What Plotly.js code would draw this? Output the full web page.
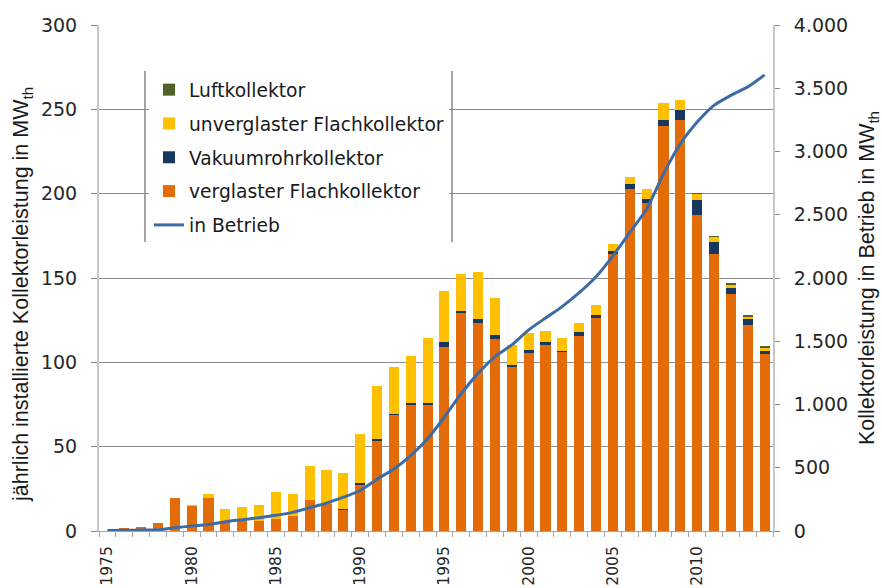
<!DOCTYPE html>
<html>
<head>
<meta charset="utf-8">
<script src="https://cdn.plot.ly/plotly-3.0.1.min.js"></script>
<style>html,body{margin:0;padding:0;background:#fff;}#chart{width:882px;height:588px;}</style>
</head>
<body>
<div id="chart"></div>
<script>
// Years (categories)
var years = [1975,1976,1977,1978,1979,1980,1981,1982,1983,1984,1985,1986,1987,1988,1989,
             1990,1991,1992,1993,1994,1995,1996,1997,1998,1999,2000,2001,2002,2003,2004,
             2005,2006,2007,2008,2009,2010,2011,2012,2013,2014];

// verglaster Flachkollektor (MWth, yearly)
var verglaster = [0,1.5,2.5,5,19.5,15,19.3,6,6.5,5.8,7.2,8.6,18.4,16,12.5,
                  27,53.5,69,75,75,109,129,123.5,114,97,105.5,110.5,106,115.5,126,
                  164,203,194.5,240,243.5,187.5,164,140.5,122,105];

// Vakuumrohrkollektor (MWth, yearly)
var vakuum = [0,0,0,0,0,0,0,0,0,0,0,0,0,0,0.7,
              1.4,1.3,0.3,0.6,0.6,3,1.4,2.2,2.2,1.6,1.6,1.6,1.0,2.2,1.8,
              1.8,2.6,2.6,3.4,6.2,8.5,7.1,3.6,3.4,2];

// unverglaster Flachkollektor (MWth, yearly)
var unverglaster = [0,0,0,0,0,0.5,2.8,7,8,9.6,15.7,13.3,20.3,20.4,21.1,
                    28.9,31.2,28.1,28,38.7,30.5,22.1,27.6,21.8,11.9,10.2,6.2,7.3,5.8,5.9,
                    4.6,4.1,5.9,10.6,5.9,3.9,3.1,2,1.6,1.6];

// Luftkollektor (MWth, yearly)
var luft = [0,0,0,0,0,0,0,0,0,0,0,0,0,0,0,
            0,0,0,0,0,0,0,0,0,0,0,0,0,0,0,
            0,0,0,0,0,0.3,0.8,0.8,0.8,0.8];

// in Betrieb (MWth, cumulative, right axis)
var inBetrieb = [3,5,7,10,26,39,52,73,89,105,124,147,184,220,267,
                 320,410,490,596,729,901,1087,1246,1379,1471,1590,1683,1776,1884,2010,
                 2175,2360,2545,2823,3061,3233,3365,3444,3511,3606];

var labelYears = [1975,1980,1985,1990,1995,2000,2005,2010];

var tickFont = {family: 'DejaVu Sans, sans-serif', size: 19, color: '#262626'};
var xTickFont = {family: 'DejaVu Sans, sans-serif', size: 15.5, color: '#262626'};
var titleFont = {family: 'Liberation Sans, Arial, sans-serif', size: 21.5, color: '#1a1a1a'};

var traces = [
  {type:'bar', name:'verglaster Flachkollektor', x:years, y:verglaster,
   marker:{color:'#E36C09', line:{width:0}}, legendrank:4, legendgroup:'g4'},
  {type:'bar', name:'Vakuumrohrkollektor', x:years, y:vakuum,
   marker:{color:'#17375E', line:{width:0}}, legendrank:3, legendgroup:'g3'},
  {type:'bar', name:'unverglaster Flachkollektor', x:years, y:unverglaster,
   marker:{color:'#FFC000', line:{width:0}}, legendrank:2, legendgroup:'g2'},
  {type:'bar', name:'Luftkollektor', x:years, y:luft,
   marker:{color:'#4F6228', line:{width:0}}, legendrank:1, legendgroup:'g1'},
  {type:'scatter', mode:'lines', name:'in Betrieb', x:years, y:inBetrieb, yaxis:'y2',
   line:{color:'#3D6BA6', width:3, shape:'spline', smoothing:0.6}, legendrank:5, legendgroup:'g5'}
];

var L = 99, R = 773, T = 25, B = 531;
var pw = R - L, ph = B - T;
function px(x){ return (x - L) / pw; }
function py(y){ return (B - y) / ph; }

var layout = {
  width: 882, height: 588,
  margin: {l: L, r: 882 - R, t: T, b: 588 - B, pad: 0},
  paper_bgcolor: '#ffffff', plot_bgcolor: '#ffffff',
  separators: ',.',
  barmode: 'stack', bargap: 0.4,
  showlegend: true,
  legend: {
    x: px(149), y: py(71), xanchor: 'left', yanchor: 'top',
    bgcolor: '#ffffff', borderwidth: 0,
    font: {family: 'DejaVu Sans, sans-serif', size: 18.7, color: '#1a1a1a'},
    tracegroupgap: 6.5, traceorder: 'grouped'
  },
  xaxis: {
    type: 'linear', range: [1974.5, 2014.5], fixedrange: true,
    tickmode: 'array', tickvals: labelYears, ticktext: labelYears.map(String),
    ticks: '', tickangle: -90, ticklabelstandoff: 8,
    tickfont: xTickFont,
    showgrid: false, zeroline: false,
    showline: true, linecolor: '#a6a6a6', linewidth: 1,
    minor: {ticks: 'outside', ticklen: 5, tick0: 1974.5, dtick: 1, tickcolor: '#a6a6a6', showgrid: false}
  },
  yaxis: {
    range: [0, 300], dtick: 50, tick0: 0,
    ticks: 'outside', ticklen: 6, tickcolor: '#868686', ticklabelstandoff: 10,
    tickfont: tickFont,
    showgrid: true, gridcolor: '#8c8c8c', gridwidth: 1, zeroline: false,
    showline: true, linecolor: '#c8c8c8', linewidth: 2
  },
  yaxis2: {
    overlaying: 'y', side: 'right', range: [0, 4000], dtick: 500, tick0: 0,
    tickformat: ',d',
    ticks: 'outside', ticklen: 5, tickcolor: '#868686', ticklabelstandoff: 10,
    tickfont: tickFont,
    showgrid: false, zeroline: false,
    showline: true, linecolor: '#c8c8c8', linewidth: 2,
    title: {text: 'Kollektorleistung in Betrieb in MW<sub>th</sub>', font: titleFont, standoff: 12}
  },
  annotations: [
    {text: 'jährlich installierte Kollektorleistung in MW<sub>th</sub>', xref:'paper', yref:'paper',
     x: px(22), y: py(295), xanchor:'center', yanchor:'middle', textangle:-90, showarrow:false,
     font: titleFont}
  ],
  shapes: [
    {type:'line', xref:'paper', yref:'paper', x0:px(145), x1:px(145), y0:py(71), y1:py(242),
     line:{color:'#868686', width:1.5}, layer:'above'},
    {type:'line', xref:'paper', yref:'paper', x0:px(452), x1:px(452), y0:py(71), y1:py(242),
     line:{color:'#868686', width:1.5}, layer:'above'}
  ]
};

Plotly.newPlot('chart', traces, layout, {displayModeBar: false, staticPlot: true});
</script>
</body>
</html>
